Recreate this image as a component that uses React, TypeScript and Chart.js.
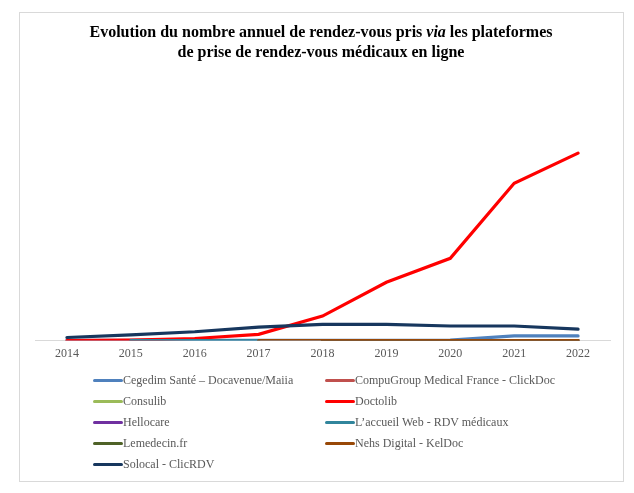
import React, { useEffect, useRef } from "react";
import { Chart, registerables } from "chart.js";

Chart.register(...registerables);

const years = ["2014", "2015", "2016", "2017", "2018", "2019", "2020", "2021", "2022"];

const seriesNames = [
  "Cegedim Santé – Docavenue/Maiia",
  "CompuGroup Medical France - ClickDoc",
  "Consulib",
  "Doctolib",
  "Hellocare",
  "L’accueil Web - RDV médicaux",
  "Lemedecin.fr",
  "Nehs Digital - KelDoc",
  "Solocal - ClicRDV",
];

const seriesColors = [
  "#4F81BD",
  "#C0504D",
  "#9BBB59",
  "#FF0000",
  "#7030A0",
  "#31859C",
  "#4F6228",
  "#984807",
  "#17375E",
];

// millions of appointments (estimated)
const cegedim = [0.5, 0.5, 0.5, 0.5, 0.5, 0.5, 1, 9, 9];
const compugroup = [null, null, null, null, 0, 0, 0, 0, 0];
const consulib = [null, null, null, null, 0, 0, 0, 0, 0];
const doctolib = [0, 1, 4, 12, 47, 112, 158, 302, 360];
const hellocare = [null, null, null, null, 0, 0, 0, 0, 0];
const accueilWeb = [null, 0, 0, 0, null, null, null, null, null];
const lemedecin = [null, null, null, null, 0, 0, 0, 0, 0];
const nehs = [null, null, null, 0, 0, 0, 0, 0, 0];
const solocal = [6, 11, 17, 26, 31, 31, 28, 28, 22];

const seriesValues = [cegedim, compugroup, consulib, doctolib, hellocare, accueilWeb, lemedecin, nehs, solocal];

const legendOrder = [0, 1, 2, 3, 4, 5, 6, 7, 8];

export default function App() {
  const ref = useRef<HTMLCanvasElement | null>(null);

  useEffect(() => {
    if (!ref.current) return;
    const chart = new Chart(ref.current, {
      type: "line",
      data: {
        labels: years,
        datasets: seriesNames.map((name, i) => ({
          label: name,
          data: seriesValues[i],
          borderColor: seriesColors[i],
          backgroundColor: seriesColors[i],
          borderWidth: 3.2,
          pointRadius: 0,
          tension: 0,
          order: 20 - i,
          borderCapStyle: "round" as const,
          spanGaps: false,
        })),
      },
      options: {
        animation: false,
        responsive: false,
        maintainAspectRatio: false,
        layout: { padding: { left: 35, right: 24, top: 101, bottom: 126 } },
        plugins: {
          legend: { display: false },
          title: { display: false },
          tooltip: { enabled: false },
        },
        scales: {
          x: {
            offset: true,
            grid: { display: false, drawTicks: false },
            border: { display: true, color: "#D9D9D9", width: 1 },
            ticks: {
              padding: 6,
              color: "#595959",
              font: { family: "'Liberation Serif', 'Times New Roman', serif", size: 12 },
              maxRotation: 0,
              autoSkip: false,
            },
          },
          y: {
            display: false,
            min: 0,
            max: 460,
          },
        },
      },
    });
    return () => chart.destroy();
  }, []);

  const serif = "'Liberation Serif', 'Times New Roman', serif";

  return (
    <div style={{ position: "absolute", left: 0, top: 0, width: 634, height: 493, background: "#fff", fontFamily: serif }}>
      <div
        style={{
          position: "absolute",
          left: 19,
          top: 12,
          width: 603,
          height: 468,
          border: "1px solid #D9D9D9",
        }}
      />
      <canvas ref={ref} width={634} height={493} style={{ position: "absolute", left: 0, top: 0, width: 634, height: 493 }} />
      <div
        style={{
          position: "absolute",
          left: 19,
          width: 604,
          top: 22,
          textAlign: "center",
          fontWeight: "bold",
          fontSize: 16,
          lineHeight: "20px",
          color: "#000",
        }}
      >
        Evolution du nombre annuel de rendez-vous pris <i>via</i> les plateformes
        <br />
        de prise de rendez-vous médicaux en ligne
      </div>
      {legendOrder.map((idx, k) => {
        const col = k % 2;
        const row = Math.floor(k / 2);
        const x = col === 0 ? 93 : 325;
        const y = 380 + row * 21.2;
        return (
          <div
            key={idx}
            style={{
              position: "absolute",
              left: x,
              top: y - 9,
              height: 18,
              display: "flex",
              alignItems: "center",
              whiteSpace: "nowrap",
              fontSize: 12,
              color: "#595959",
            }}
          >
            <span style={{ display: "inline-block", width: 30, height: 3, background: seriesColors[idx], borderRadius: 1.5 }} />
            <span>{seriesNames[idx]}</span>
          </div>
        );
      })}
    </div>
  );
}
